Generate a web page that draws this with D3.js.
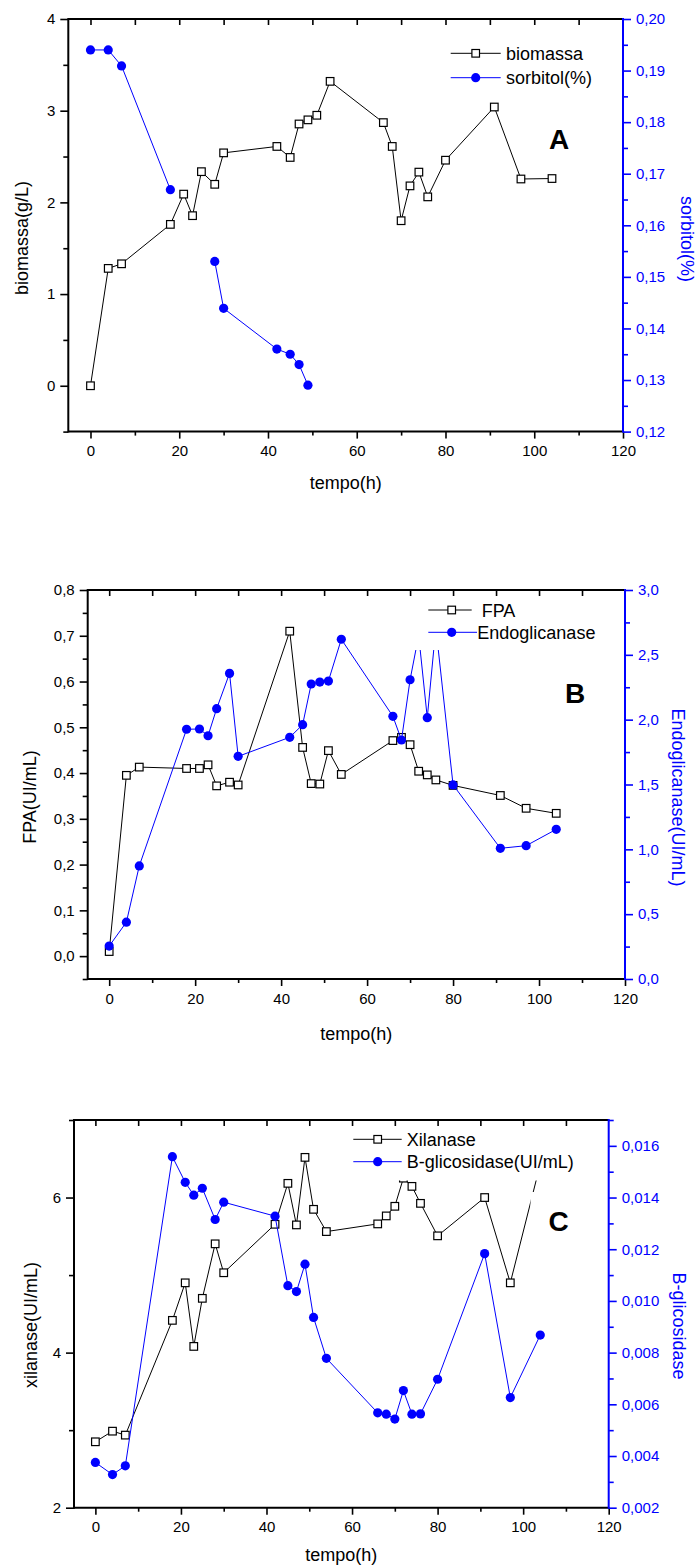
<!DOCTYPE html>
<html>
<head>
<meta charset="utf-8">
<script src="https://cdn.jsdelivr.net/npm/d3@7"></script>
<style>
  body { margin: 0; background: #fff; }
  svg { display: block; }
  text { font-family: "Liberation Sans", Arial, sans-serif; }
</style>
</head>
<body>
<svg id="chart" width="697" height="1567"></svg>
<script>
// Sampling times (h), shared by every series
const tempo = [0, 4, 7, 18, 21, 23, 25, 28, 30, 42, 45, 47, 49, 51, 54, 66, 68, 70, 72, 74, 76, 80, 91, 97, 104];

// Panel A
const biomassa = [0, 1.28, 1.33, 1.76, 2.09, 1.855, 2.335, 2.197, 2.54, 2.61, 2.49, 2.855, 2.90, 2.95, 3.32,
                  2.87, 2.61, 1.80, 2.18, 2.33, 2.06, 2.46, 3.04, 2.255, 2.26];
const sorbitol = [0.194, 0.194, 0.1909, 0.1669, null, null, null, 0.153, 0.1439, 0.136, 0.135, 0.133, 0.129,
                  null, null, null, null, null, null, null, null, null, null, null, null];

// Panel B
const fpa = [0.01, 0.395, 0.413, 0.410, 0.410, 0.418, 0.372, 0.380, 0.374, 0.710, 0.456, 0.377, 0.376, 0.449,
             0.397, 0.471, 0.478, 0.462, 0.404, 0.396, 0.385, 0.373, 0.351, 0.323, 0.312];
const endoglicanase = [0.254, 0.438, 0.872, 1.926, 1.928, 1.876, 2.085, 2.357, 1.717, 1.864, 1.961, 2.275, 2.29,
                       2.298, 2.62, 2.026, 1.843, 2.308, 2.65, 2.015, 2.71, 1.497, 1.008, 1.028, 1.154];

// Panel C
const xilanase = [2.85, 2.987, 2.936, 4.416, 4.90, 4.08, 4.70, 5.403, 5.03, 5.655, 6.183, 5.647, 6.518, 5.848,
                  5.561, 5.66, 5.763, 5.887, 6.25, 6.144, 5.925, 5.506, 6.0, 4.90, 6.43];
const bGlicosidase = [0.00375, 0.00328, 0.00362, 0.01558, 0.01459, 0.01409, 0.01436, 0.01315, 0.01382, 0.01328,
                      0.01059, 0.01036, 0.01142, 0.00936, 0.00778, 0.00567, 0.00562, 0.00543, 0.00653, 0.00562,
                      0.00563, 0.00697, 0.01183, 0.00626, 0.00868];

// Tick labels
const tempoTicks = [0, 20, 40, 60, 80, 100, 120];
const biomassaTicks = [0, 1, 2, 3, 4];
const sorbitolTicks = [0.12, 0.13, 0.14, 0.15, 0.16, 0.17, 0.18, 0.19, 0.20];
const fpaTicks = [0, 0.1, 0.2, 0.3, 0.4, 0.5, 0.6, 0.7, 0.8];
const endoTicks = [0, 0.5, 1, 1.5, 2, 2.5, 3];
const xilTicks = [2, 4, 6];
const bgTicks = [0.002, 0.004, 0.006, 0.008, 0.010, 0.012, 0.014, 0.016];

const BLUE = "#0000ff";
const ptBR = d3.formatLocale({decimal: ",", thousands: ".", grouping: [3], currency: ["", ""]});

const svg = d3.select("#chart");

function minorTicks(domain, step, majors) {
  const out = [];
  const n = Math.round((domain[1] - domain[0]) / step);
  for (let i = 0; i <= n; i++) {
    const v = +(domain[0] + i * step).toFixed(6);
    if (!majors.some(m => Math.abs(m - v) < step / 10)) out.push(v);
  }
  return out;
}

function drawPanel(p) {
  const g = svg.append("g");
  const x = d3.scaleLinear().domain([-5, 120]).range([p.left, p.right]);
  const yL = d3.scaleLinear().domain(p.yL).range([p.bottom, p.top]);
  const yR = d3.scaleLinear().domain(p.yR).range([p.bottom, p.top]);

  const styleAxis = (sel, color, fs) => {
    sel.select(".domain").remove();
    sel.selectAll("line").attr("stroke", color).attr("stroke-width", 1.6);
    sel.selectAll("text").attr("fill", color).style("font-size", fs + "px")
       .style("font-family", '"Liberation Sans", Arial, sans-serif');
  };

  // bottom axis
  g.append("g").attr("transform", `translate(0,${p.bottom})`)
    .call(d3.axisBottom(x).tickValues(tempoTicks).tickSize(7).tickPadding(7).tickFormat(d3.format("d")))
    .call(s => styleAxis(s, "#000", 15));
  g.append("g").attr("transform", `translate(0,${p.bottom})`)
    .call(d3.axisBottom(x).tickValues(d3.range(10, 120, 20)).tickSize(4).tickFormat(""))
    .call(s => styleAxis(s, "#000", 15));
  // top axis, ticks pointing inward
  g.append("g").attr("transform", `translate(0,${p.top})`)
    .call(d3.axisBottom(x).tickValues(d3.range(0, 120, 10)).tickSize(6).tickFormat(""))
    .call(s => styleAxis(s, "#000", 15));

  // left axis
  g.append("g").attr("transform", `translate(${p.left},0)`)
    .call(d3.axisLeft(yL).tickValues(p.ticksL).tickSize(8).tickPadding(5).tickFormat(ptBR.format(p.fmtL)))
    .call(s => styleAxis(s, "#000", 15));
  g.append("g").attr("transform", `translate(${p.left},0)`)
    .call(d3.axisLeft(yL).tickValues(minorTicks(p.yL, p.minorL, p.ticksL)).tickSize(5).tickFormat(""))
    .call(s => styleAxis(s, "#000", 15));

  // right axis
  g.append("g").attr("transform", `translate(${p.right},0)`)
    .call(d3.axisRight(yR).tickValues(p.ticksR).tickSize(8).tickPadding(5).tickFormat(ptBR.format(p.fmtR)))
    .call(s => styleAxis(s, BLUE, 15));
  g.append("g").attr("transform", `translate(${p.right},0)`)
    .call(d3.axisRight(yR).tickValues(minorTicks(p.yR, p.minorR, p.ticksR)).tickSize(5).tickFormat(""))
    .call(s => styleAxis(s, BLUE, 15));

  // frame
  g.append("line").attr("x1", p.left).attr("x2", p.right).attr("y1", p.top).attr("y2", p.top)
    .attr("stroke", "#000").attr("stroke-width", 2);
  g.append("line").attr("x1", p.left).attr("x2", p.right).attr("y1", p.bottom).attr("y2", p.bottom)
    .attr("stroke", "#000").attr("stroke-width", 2);
  g.append("line").attr("x1", p.left).attr("x2", p.left).attr("y1", p.top - 1).attr("y2", p.bottom + 1)
    .attr("stroke", "#000").attr("stroke-width", 2);
  g.append("line").attr("x1", p.right).attr("x2", p.right).attr("y1", p.top - 1).attr("y2", p.bottom + 1)
    .attr("stroke", BLUE).attr("stroke-width", 2);

  // series
  const rowsL = tempo.map((t, i) => ({t, v: p.dataL[i]}));
  const rowsR = tempo.map((t, i) => ({t, v: p.dataR[i]}));
  const lineL = d3.line().defined(d => d.v != null).x(d => x(d.t)).y(d => yL(d.v));
  const lineR = d3.line().defined(d => d.v != null).x(d => x(d.t)).y(d => yR(d.v));

  g.append("path").datum(rowsL).attr("d", lineL).attr("fill", "none").attr("stroke", "#000").attr("stroke-width", 1);
  g.selectAll(".sq").data(rowsL.filter(d => d.v != null)).join("rect")
    .attr("x", d => x(d.t) - 3.8).attr("y", d => yL(d.v) - 3.8).attr("width", 7.6).attr("height", 7.6)
    .attr("fill", "#fff").attr("stroke", "#000").attr("stroke-width", 1.2);

  g.append("path").datum(rowsR).attr("d", lineR).attr("fill", "none").attr("stroke", BLUE).attr("stroke-width", 1);
  g.selectAll(".ci").data(rowsR.filter(d => d.v != null)).join("circle")
    .attr("cx", d => x(d.t)).attr("cy", d => yR(d.v)).attr("r", 4.6).attr("fill", BLUE);

  // legend
  const lg = p.legend;
  g.append("rect").attr("x", lg.box[0]).attr("y", lg.box[1]).attr("width", lg.box[2]).attr("height", lg.box[3])
    .attr("fill", "#fff");
  g.append("line").attr("x1", lg.x1).attr("x2", lg.x2a).attr("y1", lg.y1).attr("y2", lg.y1)
    .attr("stroke", "#000").attr("stroke-width", 1);
  g.append("rect").attr("x", lg.mx - 3.8).attr("y", lg.y1 - 3.8).attr("width", 7.6).attr("height", 7.6)
    .attr("fill", "#fff").attr("stroke", "#000").attr("stroke-width", 1.2);
  g.append("text").attr("x", lg.tx1).attr("y", lg.y1 + 6.5).style("font-size", "18px").text(lg.labels[0]);
  g.append("line").attr("x1", lg.x1).attr("x2", lg.x2b).attr("y1", lg.y2).attr("y2", lg.y2)
    .attr("stroke", BLUE).attr("stroke-width", 1);
  g.append("circle").attr("cx", lg.mx).attr("cy", lg.y2).attr("r", 4.6).attr("fill", BLUE);
  g.append("text").attr("x", lg.tx2).attr("y", lg.y2 + 6.5).style("font-size", "18px").text(lg.labels[1]);

  // panel letter
  if (p.letterBox) {
    g.append("rect").attr("x", p.letterBox[0]).attr("y", p.letterBox[1])
      .attr("width", p.letterBox[2]).attr("height", p.letterBox[3]).attr("fill", "#fff");
  }
  g.append("text").attr("x", p.letter.x).attr("y", p.letter.y).style("font-size", "28px")
    .style("font-weight", "bold").text(p.letter.text);

  // titles
  g.append("text").attr("x", (p.left + p.right) / 2).attr("y", p.xTitleY).attr("text-anchor", "middle")
    .style("font-size", "18px").text("tempo(h)");
  g.append("text").attr("transform", `translate(${p.titleL.x},${p.titleL.y}) rotate(-90)`)
    .attr("text-anchor", "middle").attr("dominant-baseline", "central").style("font-size", "18px").text(p.titleL.text);
  g.append("text").attr("transform", `translate(${p.titleR.x},${p.titleR.y}) rotate(90)`)
    .attr("text-anchor", "middle").attr("dominant-baseline", "central").attr("fill", BLUE)
    .style("font-size", "18px").text(p.titleR.text);
}

drawPanel({
  left: 68.3, right: 623, top: 19, bottom: 431.6,
  yL: [-0.5, 4], yR: [0.12, 0.20],
  ticksL: biomassaTicks, ticksR: sorbitolTicks, minorL: 0.5, minorR: 0.005, fmtL: "d", fmtR: ".2f",
  dataL: biomassa, dataR: sorbitol,
  legend: {box: [446, 37, 160, 54], x1: 450.7, x2a: 500.7, x2b: 500.7, mx: 475.7, y1: 53.3, y2: 77.7,
           tx1: 506, tx2: 506, labels: ["biomassa", "sorbitol(%)"]},
  letter: {x: 549, y: 149, text: "A"},
  xTitleY: 489,
  titleL: {x: 22, y: 238, text: "biomassa(g/L)"},
  titleR: {x: 686.5, y: 239, text: "sorbitol(%)"}
});

drawPanel({
  left: 87.7, right: 625, top: 590, bottom: 979,
  yL: [-0.05, 0.8], yR: [0, 3],
  ticksL: fpaTicks, ticksR: endoTicks, minorL: 0.05, minorR: 0.25, fmtL: ".1f", fmtR: ".1f",
  dataL: fpa, dataR: endoglicanase,
  legend: {box: [405, 598, 205, 52], x1: 428.3, x2a: 471.7, x2b: 477, mx: 451.7, y1: 610, y2: 632.3,
           tx1: 481.7, tx2: 477.3, labels: ["FPA", "Endoglicanase"]},
  letter: {x: 565, y: 703, text: "B"},
  xTitleY: 1040,
  titleL: {x: 30, y: 797, text: "FPA(UI/mL)"},
  titleR: {x: 678, y: 797.5, text: "Endoglicanase(UI/mL)"}
});

drawPanel({
  left: 74, right: 608.7, top: 1120, bottom: 1507.7,
  yL: [2, 7], yR: [0.002, 0.017],
  ticksL: xilTicks, ticksR: bgTicks, minorL: 1, minorR: 0.001, fmtL: "d", fmtR: ".3f",
  dataL: xilanase, dataR: bGlicosidase,
  legend: {box: [346, 1128, 244, 52.5], x1: 353.3, x2a: 401.7, x2b: 401.7, mx: 377.7, y1: 1139.3, y2: 1161.7,
           tx1: 406.7, tx2: 406.7, labels: ["Xilanase", "B-glicosidase(UI/mL)"]},
  letterBox: [530.5, 1192, 60, 56],
  letter: {x: 548.5, y: 1231, text: "C"},
  xTitleY: 1561,
  titleL: {x: 31, y: 1325, text: "xilanase(UI/mL)"},
  titleR: {x: 679, y: 1326, text: "B-glicosidase"}
});
</script>
</body>
</html>
